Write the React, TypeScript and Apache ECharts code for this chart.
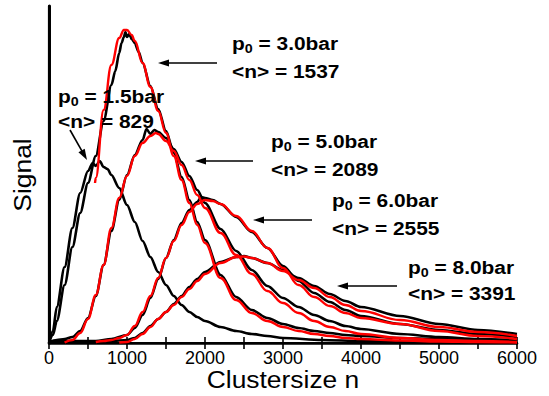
import React, { useEffect, useRef } from "react";
import * as echarts from "echarts";

// Cluster size axis ticks
const xTicks = [0, 1000, 2000, 3000, 4000, 5000, 6000];

// Measured signals (black) [cluster size n, signal a.u.]
const data15: [number, number][] = [[0,0],[50,12],[100,36],[200,76],[300,115],[400,150],[500,172],[560,180],[600,177],[650,182],[700,176],[750,174],[800,168],[900,155],[1000,138],[1100,121],[1200,102],[1300,86],[1400,71],[1500,58],[1600,47],[1700,38],[1800,31],[1900,26],[2000,22],[2200,16],[2400,12],[2600,9],[2800,7],[3000,5],[3500,3],[4000,2],[5000,1],[6000,1]];
const data30: [number, number][] = [[0,0],[50,8],[100,22],[200,58],[300,96],[400,130],[500,160],[600,187],[700,222],[800,258],[850,272],[900,290],[930,300],[960,306],[980,311],[1000,306],[1030,309],[1060,304],[1100,300],[1150,291],[1200,280],[1300,257],[1400,234],[1500,212],[1600,190],[1700,166],[1800,143],[1900,121],[2000,103],[2200,68],[2400,46],[2600,33],[2800,25],[3000,19],[3200,15],[3400,12],[3600,10],[3800,8],[4000,7],[4500,5],[5000,4],[5500,3],[6000,2]];
const data50: [number, number][] = [[0,1],[100,3],[200,4],[300,6],[400,12],[500,25],[600,47],[700,78],[800,112],[900,143],[1000,168],[1100,188],[1200,203],[1250,214],[1300,209],[1350,213],[1400,211],[1500,205],[1600,194],[1700,181],[1800,167],[1900,153],[2000,140],[2200,114],[2400,92],[2600,73],[2800,57],[3000,45],[3200,36],[3400,28],[3600,22],[3800,17],[4000,14],[4500,9],[5000,6],[5500,4],[6000,3]];
const data60: [number, number][] = [[0,1],[200,2],[400,2],[600,2],[800,4],[1000,8],[1100,15],[1200,28],[1300,45],[1400,64],[1500,85],[1600,103],[1700,120],[1800,133],[1900,141],[1950,146],[2000,145],[2100,143],[2200,139],[2400,126],[2600,111],[2800,95],[3000,77],[3200,62],[3400,50],[3600,41],[3800,33],[4000,27],[4500,19],[5000,13],[5500,9],[6000,6]];
const data80: [number, number][] = [[0,1],[400,1],[800,2],[1000,3],[1100,5],[1200,10],[1300,17],[1400,24],[1500,31],[1600,39],[1700,47],[1800,56],[1900,64],[2000,71],[2200,81],[2400,86],[2500,87],[2600,85],[2800,80],[3000,73],[3200,65],[3400,57],[3600,49],[3800,42],[4000,36],[4500,27],[5000,19],[5500,13],[6000,9]];

// Fits (red)
const fit30: [number, number][] = [[590,160],[600,165],[700,233],[800,278],[900,305],[960,313],[1000,313],[1060,308],[1100,302],[1200,280],[1300,256],[1400,232],[1500,210],[1600,187],[1700,163],[1800,140],[1900,118],[2000,100],[2200,65],[2400,43],[2600,30],[2800,22],[3000,16],[3200,12],[3400,9],[3600,7],[3800,5],[4000,4],[4500,2.5],[5000,1.5],[5500,1],[6000,0.5]];
const fit50: [number, number][] = [[200,0.5],[300,3],[400,10],[500,24],[600,48],[700,78],[800,115],[900,145],[1000,167],[1100,187],[1200,200],[1300,207],[1370,210],[1400,209],[1500,202],[1600,192],[1700,178],[1800,163],[1900,148],[2000,135],[2200,110],[2400,88],[2600,69],[2800,52],[3000,40],[3200,30],[3400,22],[3600,16],[3800,12],[4000,9],[4500,5],[5000,3],[5500,2],[6000,1]];
const fit60: [number, number][] = [[600,1],[700,2],[800,3],[900,5],[1000,8],[1100,17],[1200,31],[1300,47],[1400,65],[1500,85],[1600,102],[1700,118],[1800,131],[1900,139],[2000,143],[2100,142],[2200,139],[2400,127],[2600,112],[2800,95],[3000,75],[3200,58],[3400,46],[3600,37],[3800,30],[4000,25],[4500,19],[5000,12],[5500,7],[6000,4]];
const fit80: [number, number][] = [[900,0.5],[1000,1],[1100,4],[1200,9],[1300,16],[1400,24],[1500,31],[1600,38],[1700,46],[1800,54],[1900,62],[2000,69],[2200,80],[2400,86],[2500,86.5],[2600,85],[2800,80],[3000,72],[3200,63],[3400,55],[3600,46],[3800,38],[4000,32],[4500,23],[5000,16],[5500,11],[6000,7]];

// Annotation texts
const pressures = ["1.5bar", "3.0bar", "5.0bar", "6.0bar", "8.0bar"];
const means = ["829", "1537", "2089", "2555", "3391"];

const FONT = "'Liberation Sans', Arial, Helvetica, sans-serif";

export default function App() {
  const ref = useRef<HTMLDivElement>(null);
  useEffect(() => {
    if (!ref.current) return;
    const chart = echarts.init(ref.current, undefined, { renderer: "svg" });

    const blackSeries = [data15, data30, data50, data60, data80].map((d) => ({
      type: "line",
      data: d,
      showSymbol: false,
      smooth: 0.3,
      smoothMonotone: "x",
      lineStyle: { color: "#000", width: 2.6 },
      z: 2,
    }));
    const redSeries = [fit30, fit50, fit60, fit80].map((d) => ({
      type: "line",
      data: d,
      showSymbol: false,
      smooth: 0.4,
      smoothMonotone: "x",
      lineStyle: { color: "#ff0000", width: 2.4 },
      z: 3,
    }));

    const labelPos = [
      [58, 96, 121],
      [232, 43, 71],
      [271, 141, 169],
      [332, 200, 228],
      [408, 267, 293],
    ];
    const rich = {
      b: { fontSize: 19, fontWeight: "bold", fontFamily: FONT, fill: "#000", lineHeight: 24 },
      s: { fontSize: 13, fontWeight: "bold", fontFamily: FONT, fill: "#000", lineHeight: 12, verticalAlign: "bottom" },
    };
    const texts: any[] = [];
    labelPos.forEach((p, i) => {
      texts.push({
        type: "text",
        x: p[0],
        y: p[1],
        scaleX: 1.1,
        style: {
          text: `{b|p}{s|0}{b| = ${pressures[i]}}`,
          rich,
          align: "left",
          verticalAlign: "middle",
        },
        z: 10,
      });
      texts.push({
        type: "text",
        x: p[0],
        y: p[2],
        scaleX: 1.1,
        style: {
          text: `<n> = ${means[i]}`,
          fontSize: 19,
          fontWeight: "bold",
          fontFamily: FONT,
          fill: "#000",
          align: "left",
          verticalAlign: "middle",
        },
        z: 10,
      });
    });

    const arrows = [
      [70, 130, 87, 160],
      [217, 63, 158, 63],
      [253, 161, 195, 161],
      [312, 220, 253, 220],
      [397, 286, 337, 286],
    ];
    const arrowEls: any[] = [];
    arrows.forEach(([x1, y1, x2, y2]) => {
      const dx = x2 - x1, dy = y2 - y1;
      const L = Math.hypot(dx, dy);
      const ux = dx / L, uy = dy / L;
      const hl = 11, hw = 3.6;
      const bx = x2 - ux * hl, by = y2 - uy * hl;
      arrowEls.push({
        type: "line",
        shape: { x1, y1, x2: bx + ux * 2, y2: by + uy * 2 },
        style: { stroke: "#000", lineWidth: 1.6 },
        z: 10,
      });
      arrowEls.push({
        type: "polygon",
        shape: {
          points: [
            [x2, y2],
            [bx - uy * hw, by + ux * hw],
            [bx + uy * hw, by - ux * hw],
          ],
        },
        style: { fill: "#000" },
        z: 10,
      });
    });

    const axisTitles = [
      {
        type: "text",
        x: 283,
        y: 379,
        scaleX: 1.1,
        style: {
          text: "Clustersize n",
          fontSize: 24,
          fontFamily: FONT,
          fill: "#000",
          align: "center",
          verticalAlign: "middle",
        },
      },
      {
        type: "text",
        x: 22,
        y: 175,
        rotation: Math.PI / 2,
        scaleX: 1.1,
        style: {
          text: "Signal",
          fontSize: 24,
          fontFamily: FONT,
          fill: "#000",
          align: "center",
          verticalAlign: "middle",
        },
      },
    ];

    chart.setOption({
      animation: false,
      backgroundColor: "#fff",
      grid: { left: 49, right: 32, top: 6, bottom: 53, containLabel: false },
      xAxis: [
        {
          type: "value",
          position: "bottom",
          min: 0,
          max: 6000,
          interval: 500,
          axisLine: { show: true, lineStyle: { color: "#000", width: 2.6 } },
          axisTick: { show: true, inside: true, length: 6, lineStyle: { color: "#000", width: 1.6 } },
          axisLabel: {
            color: "#000",
            fontSize: 18,
            fontFamily: FONT,
            margin: 6,
            formatter: (v: number) => (xTicks.includes(v) ? String(v) : ""),
          },
          splitLine: { show: false },
        },
        {
          type: "value",
          position: "top",
          min: 0,
          max: 6000,
          interval: 500,
          axisLine: { show: true, lineStyle: { color: "#000", width: 2.2 } },
          axisTick: { show: true, inside: true, length: 6, lineStyle: { color: "#000", width: 1.6 } },
          axisLabel: { show: false },
          splitLine: { show: false },
        },
      ],
      yAxis: [
        {
          type: "value",
          position: "left",
          min: 0,
          max: 337,
          axisLine: { show: true, lineStyle: { color: "#000", width: 3 } },
          axisTick: { show: false },
          axisLabel: { show: false },
          splitLine: { show: false },
        },
        {
          type: "value",
          position: "right",
          min: 0,
          max: 337,
          axisLine: { show: true, lineStyle: { color: "#000", width: 2.2 } },
          axisTick: { show: false },
          axisLabel: { show: false },
          splitLine: { show: false },
        },
      ],
      series: [...blackSeries, ...redSeries],
      graphic: [...texts, ...arrowEls, ...axisTitles],
    });
    return () => chart.dispose();
  }, []);
  return <div ref={ref} style={{ width: 549, height: 396, position: "absolute", left: 0, top: 0 }} />;
}
